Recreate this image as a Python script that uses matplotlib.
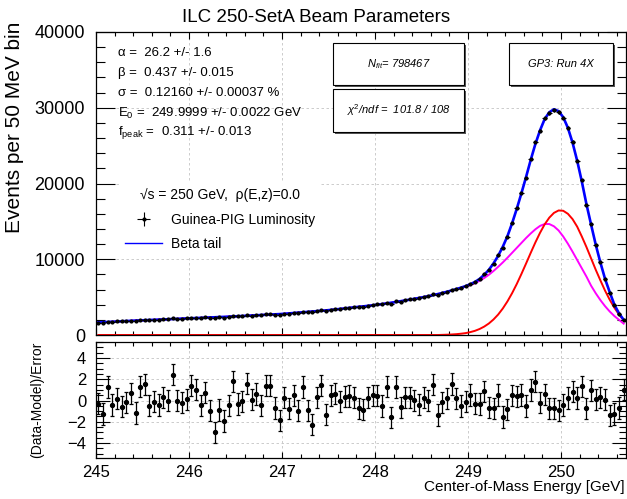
import numpy as np
import matplotlib
matplotlib.use("Agg")
import matplotlib.pyplot as plt
from matplotlib.patches import Rectangle
from matplotlib.ticker import MultipleLocator

plt.rcParams["font.family"] = ["Liberation Sans", "DejaVu Sans"]
plt.rcParams["mathtext.fontset"] = "custom"
plt.rcParams["mathtext.rm"] = "Liberation Sans"
plt.rcParams["mathtext.it"] = "Liberation Sans:italic"

# 50 MeV bins from 245.0 to 250.7 GeV
e_min, e_max, bin_width, n_bins = 245.0, 250.7, 0.05, 114
energy = e_min + bin_width * (np.arange(n_bins) + 0.5)

# Guinea-PIG events per bin
counts = [
    1648, 1638, 1773, 1732, 1787, 1785, 1833, 1899, 1849, 1987,
    2017, 1958, 1995, 2011, 2064, 2079, 2222, 2129, 2151, 2195,
    2276, 2288, 2239, 2325, 2274, 2195, 2327, 2296, 2398, 2539,
    2464, 2506, 2620, 2574, 2631, 2617, 2742, 2773, 2693, 2662,
    2814, 2809, 2926, 2898, 3070, 2999, 2974, 3167, 3281, 3174,
    3338, 3417, 3435, 3531, 3605, 3666, 3675, 3727, 3867, 3951,
    4028, 4047, 4254, 4157, 4444, 4417, 4580, 4690, 4781, 4863,
    5029, 5129, 5368, 5300, 5537, 5725, 5999, 6076, 6209, 6451,
    6743, 6975, 7372, 8027, 8538, 9378, 10503, 11483, 12955, 14810,
    16700, 18771, 20775, 23250, 25481, 26967, 28598, 29273, 29672, 29392,
    28679, 27390, 25532, 23036, 20439, 17153, 14666, 11912, 9579, 7407,
    5546, 3920, 2813, 2046,
]

# full fit (blue)
model_total = [
    1660, 1690, 1720, 1750, 1780, 1810, 1840, 1870, 1900, 1930,
    1950, 1980, 2000, 2030, 2050, 2080, 2110, 2130, 2160, 2190,
    2210, 2240, 2260, 2290, 2320, 2340, 2370, 2390, 2420, 2450,
    2480, 2510, 2540, 2570, 2600, 2640, 2670, 2700, 2730, 2760,
    2800, 2850, 2900, 2950, 3000, 3050, 3100, 3150, 3200, 3250,
    3310, 3380, 3440, 3510, 3580, 3650, 3720, 3780, 3850, 3920,
    4000, 4080, 4170, 4260, 4360, 4460, 4560, 4670, 4780, 4890,
    5010, 5130, 5260, 5400, 5550, 5710, 5880, 6060, 6250, 6460,
    6700, 7000, 7400, 7950, 8600, 9450, 10450, 11650, 13050, 14750,
    16650, 18700, 20850, 23100, 25200, 27000, 28500, 29400, 29800, 29550,
    28750, 27350, 25400, 23000, 20250, 17250, 14550, 11900, 9550, 7400,
    5650, 4000, 2850, 2000,
]

# peak component (red)
model_peak = [0] * 74 + [
    20, 40, 70, 110, 170, 250,
    380, 550, 790, 1110, 1520, 2050, 2700, 3500, 4440, 5520,
    6730, 8050, 9430, 10840, 12210, 13480, 14600, 15490, 16120, 16440,
    16400, 16000, 15300, 14300, 13000, 11600, 10100, 8600, 7200, 5850,
    4650, 3600, 2700, 1950,
]

# beta tail component (magenta)
model_tail = model_total[:74] + [
    5540, 5690, 5850, 6020, 6200, 6380,
    6580, 6840, 7150, 7520, 7950, 8450, 9000, 9580, 10200, 10850,
    11500, 12150, 12800, 13400, 13950, 14400, 14650, 14650, 14350, 13800,
    13000, 12050, 11000, 9900, 8800, 7700, 6500, 5500, 4600, 3800,
    3100, 2500, 2000, 1500,
]

# (Data-Model)/Error
pull = [
    -0.3, -1.27, 1.27, -0.42, 0.17, -0.58, -0.17, 0.67, -1.18, 1.3,
    1.52, -0.49, -0.11, -0.42, 0.3, -0.02, 2.43, -0.02, -0.2, 0.11,
    1.4, 1.02, -0.45, 0.74, -0.96, -3.0, -0.89, -1.93, -0.45, 1.8,
    -0.33, -0.08, 1.58, 0.08, 0.61, -0.45, 1.4, 1.4, -0.7, -1.87,
    0.27, -0.77, 0.49, -0.96, 1.27, -0.92, -2.27, 0.3, 1.43, -1.33,
    0.49, 0.64, -0.08, 0.36, 0.42, 0.27, -0.74, -0.86, 0.27, 0.49,
    0.45, -0.52, 1.3, -1.58, 1.27, -0.64, 0.3, 0.3, 0.02, -0.39,
    0.27, -0.02, 1.49, -1.36, -0.17, 0.2, 1.55, 0.2, -0.52, -0.11,
    0.52, -0.3, -0.33, 0.86, -0.67, -0.74, 0.52, -1.55, -0.83, 0.49,
    0.39, 0.52, -0.52, 0.99, 1.77, -0.2, 0.58, -0.74, -0.74, -0.92,
    -0.42, 0.24, 0.83, 0.24, 1.33, -0.74, 0.96, 0.11, 0.3, 0.08,
    -1.39, -1.27, -0.7, 1.02,
]

fit_lines = [
    "α =  26.2 +/- 1.6",
    "β =  0.437 +/- 0.015",
    "σ =  0.12160 +/- 0.00037 %",
    "E$_{0}$ =  249.9999 +/- 0.0022 GeV",
    "f$_{\\mathrm{peak}}$ =  0.311 +/- 0.013",
]

W, H = 627, 499
fig = plt.figure(figsize=(W / 100, H / 100), dpi=100)


def fbox(x0, y0, x1, y1):
    # pixel box (top-left origin) -> figure fraction
    return [x0 / W, 1 - y1 / H, (x1 - x0) / W, (y1 - y0) / H]


ax = fig.add_axes(fbox(96, 32, 626, 335))
axr = fig.add_axes(fbox(96, 342, 626, 458), sharex=ax)

grid_kw = dict(color="#c4c4c4", linestyle=(0, (3, 3)), linewidth=0.6)

# ---- main panel ----
ax.plot(energy, model_tail, color="#ff00ff", lw=1.4, zorder=2)
ax.plot(energy, model_peak, color="#ff0000", lw=1.4, zorder=2)
(blue,) = ax.plot(energy, model_total, color="#0000ff", lw=1.9, zorder=3)
data = ax.errorbar(
    energy, counts, yerr=np.sqrt(counts), xerr=bin_width / 2,
    fmt="o", ms=2.0, color="black", elinewidth=0.8, capsize=0, zorder=4,
)
ax.set_xlim(e_min, e_max)
ax.set_ylim(0, 40000)
ax.yaxis.set_major_locator(MultipleLocator(10000))
ax.yaxis.set_minor_locator(MultipleLocator(2000))
ax.xaxis.set_major_locator(MultipleLocator(1))
ax.xaxis.set_minor_locator(MultipleLocator(0.2))
ax.grid(True, which="major", **grid_kw)
ax.set_axisbelow(True)
ax.tick_params(which="both", direction="in", top=True, right=True,
               labelbottom=False, labelsize=13, pad=8)
ax.tick_params(axis="y", which="major", length=13.5, width=0.8)
ax.tick_params(axis="y", which="minor", length=6.5, width=0.8)
ax.tick_params(axis="x", which="major", length=5, width=0.8)
ax.tick_params(axis="x", which="minor", length=3, width=0.8)

leg = ax.legend(
    [data, blue], ["Guinea-PIG Luminosity", "Beta tail"],
    title="√s = 250 GeV,  ρ(E,z)=0.0",
    loc="upper left", bbox_to_anchor=(0.032, 0.525),
    fontsize=10, title_fontsize=10, frameon=True, fancybox=False,
    facecolor="white", edgecolor="none", framealpha=1,
    handlelength=2.6, handletextpad=0.7, labelspacing=0.75, borderpad=0.4,
)
leg.set_zorder(6)
for ln in leg.get_lines():
    if ln.get_color() == "#0000ff":
        ln.set_linewidth(1.0)

# ---- residual panel ----
axr.errorbar(energy, pull, yerr=1, fmt="o", ms=2.8, color="black",
             elinewidth=0.9, capsize=1.3, capthick=0.9, zorder=3)
axr.set_ylim(-5.4, 5.5)
axr.yaxis.set_major_locator(MultipleLocator(2))
axr.yaxis.set_minor_locator(MultipleLocator(0.5))
axr.grid(True, which="major", **grid_kw)
axr.set_axisbelow(True)
axr.tick_params(which="both", direction="in", top=True, right=True)
axr.tick_params(axis="y", which="major", length=10, width=0.8, labelsize=12, pad=7)
axr.tick_params(axis="y", which="minor", length=5, width=0.8)
axr.tick_params(axis="x", which="major", length=4.5, width=0.8, labelsize=12, pad=5)
axr.tick_params(axis="x", which="minor", length=3, width=0.8)

for a in (ax, axr):
    for s in a.spines.values():
        s.set_linewidth(0.9)

# ---- text ----
fig.text(316 / W, 1 - 17 / H, "ILC 250-SetA Beam Parameters",
         ha="center", va="center", fontsize=13.5)
fig.text(15 / W, 1 - 22 / H, "Events per 50 MeV bin", rotation=90,
         ha="center", va="top", fontsize=15)
fig.text(37 / W, 1 - 400 / H, "(Data-Model)/Error", rotation=90,
         ha="center", va="center", fontsize=10)
fig.text(625 / W, 1 - 487 / H, "Center-of-Mass Energy [GeV]",
         ha="right", va="center", fontsize=11)

for k, line in enumerate(fit_lines):
    fig.text(118 / W, 1 - (53 + 20 * k) / H, line, ha="left", va="center",
             fontsize=9.5)

# ROOT-style boxes with a shadow
boxes = [
    ((333, 43, 464, 85), "N$_{\\mathit{fit}}$= 798467"),
    ((333, 89, 464, 132), "χ$^{2}$/ndf =  101.8 / 108"),
    ((509, 43, 613, 85), "GP3: Run 4X"),
]
for (x0, y0, x1, y1), label in boxes:
    shadow = Rectangle(((x0 + 2) / W, 1 - (y1 + 2) / H), (x1 - x0) / W,
                       (y1 - y0) / H, transform=fig.transFigure,
                       facecolor="#555555", edgecolor="none", zorder=7)
    frame = Rectangle((x0 / W, 1 - y1 / H), (x1 - x0) / W, (y1 - y0) / H,
                      transform=fig.transFigure, facecolor="white",
                      edgecolor="black", linewidth=0.8, zorder=8)
    fig.add_artist(shadow)
    fig.add_artist(frame)
    fig.text((x0 + x1) / 2 / W, 1 - (y0 + y1) / 2 / H, label,
             ha="center", va="center", fontsize=8, style="italic", zorder=9)

fig.savefig("out.png", dpi=100)
